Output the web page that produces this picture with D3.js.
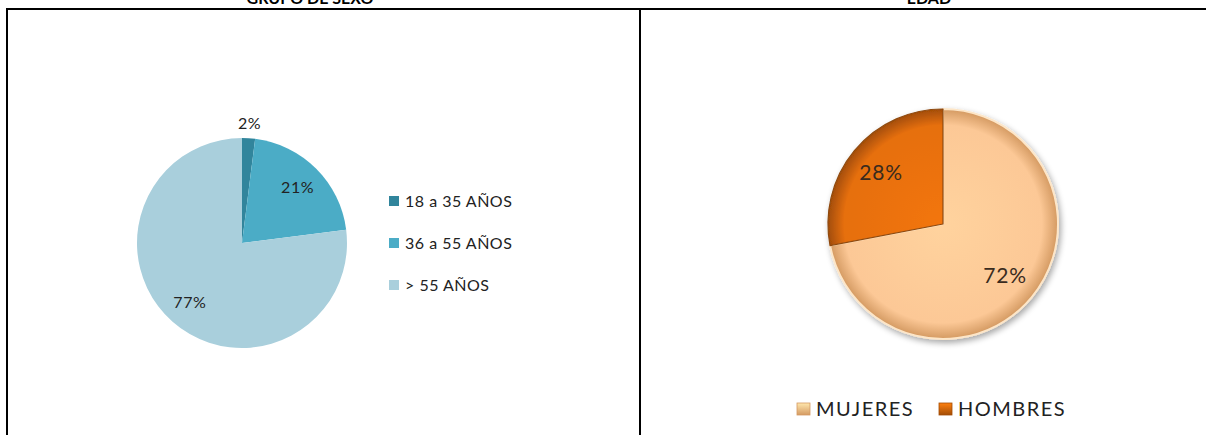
<!DOCTYPE html>
<html>
<head>
<meta charset="utf-8">
<script src="https://cdn.jsdelivr.net/npm/d3@7"></script>
<style>
  body { margin: 0; background: #fff; }
  text { font-family: Lato, 'Open Sans', sans-serif; }
</style>
</head>
<body>
<div id="chart"></div>
<script>
// data
const ageGroups = ['18 a 35 AÑOS', '36 a 55 AÑOS', '> 55 AÑOS']
const ageShares = [2, 21, 77]
const ageColours = ['#31859c', '#4bacc6', '#a9cfdc']

const sexGroups = ['MUJERES', 'HOMBRES']
const sexShares = [72, 28]
const sexColours = ['#fcc896', '#e66f0c']
const sexEdges = ['#d49a62', '#a34d06']

const titles = ['GRUPO DE SEXO', 'EDAD']

const width = 1206
const height = 435

const svg = d3.select('#chart').append('svg')
    .attr('width', width)
    .attr('height', height)

// table frame
const frame = svg.append('g')
    .attr('stroke', '#000')
    .attr('stroke-width', 2)
frame.append('line').attr('x1', 6).attr('x2', width).attr('y1', 9).attr('y2', 9)
frame.append('line').attr('x1', 7).attr('x2', 7).attr('y1', 8).attr('y2', height)
frame.append('line').attr('x1', 640).attr('x2', 640).attr('y1', 8).attr('y2', height)

// titles, cut at the top edge like the original
svg.selectAll('.title')
    .data(titles)
    .enter().append('text')
    .attr('class', 'title')
    .attr('x', (d, i) => i === 0 ? 310 : 929)
    .attr('y', 4)
    .attr('text-anchor', 'middle')
    .style('font-size', '16px')
    .style('font-weight', 'bold')
    .text(d => d)

const pie = d3.pie().sort(null).value(d => d)

// LEFT PIE
const r1 = 105
const left = svg.append('g')
    .attr('transform', 'translate(242,243)')

const arc1 = d3.arc().innerRadius(0).outerRadius(r1)
const label1 = d3.arc().innerRadius(r1 * 0.75).outerRadius(r1 * 0.75)
const labelOut = d3.arc().innerRadius(r1 + 15).outerRadius(r1 + 15)

const ageArcs = pie(ageShares)

left.selectAll('path')
    .data(ageArcs)
    .enter().append('path')
    .attr('d', arc1)
    .attr('fill', (d, i) => ageColours[i])

left.selectAll('.lbl')
    .data(ageArcs)
    .enter().append('text')
    .attr('class', 'lbl')
    .attr('transform', (d, i) => 'translate(' + (i === 0 ? labelOut : label1).centroid(d) + ')')
    .attr('text-anchor', 'middle')
    .attr('dy', '0.35em')
    .style('font-size', '16px')
    .style('letter-spacing', '0.6px')
    .style('fill', '#222')
    .text(d => d.data + '%')

const legend1 = svg.append('g')
    .attr('transform', 'translate(389,201)')

const leg1 = legend1.selectAll('g')
    .data(ageGroups)
    .enter().append('g')
    .attr('transform', (d, i) => 'translate(0,' + (i * 42) + ')')

leg1.append('rect')
    .attr('x', 0)
    .attr('y', -5)
    .attr('width', 10)
    .attr('height', 10)
    .attr('fill', (d, i) => ageColours[i])

leg1.append('text')
    .attr('x', 16)
    .attr('dy', '0.35em')
    .style('font-size', '16px')
    .style('letter-spacing', '0.5px')
    .style('fill', '#222')
    .text(d => d)

// RIGHT PIE (bevelled look)
const r2 = 115
const cx2 = 943
const cy2 = 224

const defs = svg.append('defs')

const shadow = defs.append('filter')
    .attr('id', 'shadow')
    .attr('x', '-20%').attr('y', '-20%')
    .attr('width', '140%').attr('height', '140%')
shadow.append('feGaussianBlur').attr('in', 'SourceAlpha').attr('stdDeviation', 3)
shadow.append('feOffset').attr('dx', 2).attr('dy', 3).attr('result', 'off')
shadow.append('feComponentTransfer').append('feFuncA').attr('type', 'linear').attr('slope', 0.35)
const merge = shadow.append('feMerge')
merge.append('feMergeNode')
merge.append('feMergeNode').attr('in', 'SourceGraphic')

sexColours.forEach((c, i) => {
    const g = defs.append('radialGradient')
        .attr('id', 'sex-grad-' + i)
        .attr('gradientUnits', 'userSpaceOnUse')
        .attr('cx', 0).attr('cy', 0).attr('r', r2)
    g.append('stop').attr('offset', '0%').attr('stop-color', d3.color(c).brighter(0.15))
    g.append('stop').attr('offset', '86%').attr('stop-color', c)
    g.append('stop').attr('offset', '100%').attr('stop-color', sexEdges[i])

    const s = defs.append('linearGradient')
        .attr('id', 'sw-grad-' + i)
        .attr('x1', '0%').attr('y1', '0%').attr('x2', '0%').attr('y2', '100%')
    s.append('stop').attr('offset', '0%').attr('stop-color', d3.color(c).brighter(0.4))
    s.append('stop').attr('offset', '100%').attr('stop-color', sexEdges[i])
})

const right = svg.append('g')
    .attr('transform', 'translate(' + cx2 + ',' + cy2 + ')')

const arc2 = d3.arc().innerRadius(0).outerRadius(r2)
const label2 = d3.arc().innerRadius(r2 * 0.7).outerRadius(r2 * 0.7)

const sexArcs = pie(sexShares)

right.append('g')
    .attr('filter', 'url(#shadow)')
    .selectAll('path')
    .data(sexArcs)
    .enter().append('path')
    .attr('d', arc2)
    .attr('fill', (d, i) => 'url(#sex-grad-' + i + ')')
    .attr('stroke', (d, i) => i === 0 ? '#fde6c8' : '#8f4a10')
    .attr('stroke-width', (d, i) => i === 0 ? 2 : 1.2)
    .attr('stroke-linejoin', 'round')

right.selectAll('.lbl')
    .data(sexArcs)
    .enter().append('text')
    .attr('class', 'lbl')
    .attr('transform', d => 'translate(' + label2.centroid(d) + ')')
    .attr('text-anchor', 'middle')
    .attr('dy', '0.35em')
    .style('font-size', '21px')
    .style('letter-spacing', '0.8px')
    .style('fill', '#3a2b1e')
    .text(d => d.data + '%')

const legend2 = svg.append('g')
    .attr('transform', 'translate(797,409)')

const leg2 = legend2.selectAll('g')
    .data(sexGroups)
    .enter().append('g')
    .attr('transform', (d, i) => 'translate(' + (i * 142) + ',0)')

leg2.append('rect')
    .attr('x', 0)
    .attr('y', -6)
    .attr('width', 13)
    .attr('height', 12)
    .attr('fill', (d, i) => 'url(#sw-grad-' + i + ')')
    .attr('stroke', (d, i) => sexEdges[i])
    .attr('stroke-width', 0.8)

leg2.append('text')
    .attr('x', 19)
    .attr('dy', '0.36em')
    .style('font-size', '20px')
    .style('letter-spacing', '1.5px')
    .style('fill', '#222')
    .text(d => d)
</script>
</body>
</html>
